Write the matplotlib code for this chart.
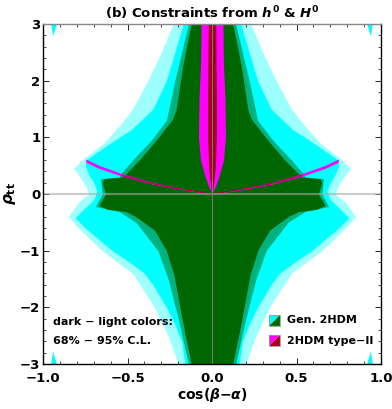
import matplotlib
matplotlib.use("Agg")
import matplotlib.pyplot as plt
import numpy as np
from matplotlib.patches import Polygon

plt.rcParams['font.family'] = ['DejaVu Sans']
plt.rcParams['font.weight'] = 'bold'
plt.rcParams['mathtext.fontset'] = 'custom'
plt.rcParams['mathtext.rm'] = 'DejaVu Sans:bold'
plt.rcParams['mathtext.it'] = 'DejaVu Sans:italic:bold'
plt.rcParams['mathtext.bf'] = 'DejaVu Sans:bold'

# right-hand half widths of each region (regions are mirrored about x = 0)
# general 2HDM, 95% C.L. (cyan): sparse outer edge and dense inner edge
cyan_out_y = [3.0, 2.5, 2.0, 1.5, 1.2, 0.9, 0.6, 0.45, 0.3, 0.1, 0.0, -0.15, -0.4, -0.6, -1.0, -1.4, -2.0, -2.5, -3.0]
cyan_out_x = [0.23, 0.30, 0.38, 0.47, 0.55, 0.64, 0.77, 0.82, 0.78, 0.74, 0.73, 0.79, 0.85, 0.79, 0.65, 0.47, 0.34, 0.26, 0.20]
cyan_in_y = [3.0, 2.5, 2.0, 1.5, 1.13, 1.0, 0.8, 0.6, 0.5, 0.35, 0.2, 0.05, -0.1, -0.3, -0.42, -0.6, -0.8, -1.0, -1.2, -1.4, -1.6, -2.0, -2.3, -2.6, -3.0]
cyan_in_x = [0.17, 0.22, 0.27, 0.35, 0.48, 0.55, 0.65, 0.745, 0.75, 0.73, 0.70, 0.68, 0.70, 0.77, 0.81, 0.75, 0.67, 0.59, 0.49, 0.40, 0.35, 0.27, 0.22, 0.18, 0.16]

# general 2HDM, 68% C.L. (green)
green_out_y = [3.0, 2.0, 1.3, 0.95, 0.6, 0.36, 0.3, 0.27, 0.0, -0.22, -0.31, -0.5, -1.0, -1.5, -2.2, -3.0]
green_out_x = [0.14, 0.22, 0.27, 0.36, 0.47, 0.54, 0.55, 0.66, 0.65, 0.69, 0.55, 0.45, 0.32, 0.26, 0.20, 0.14]
green_in_y = [3.0, 2.28, 1.48, 1.31, 0.95, 0.6, 0.36, 0.30, 0.27, 0.2, 0.1, 0.0, -0.1, -0.2, -0.27, -0.31, -0.4, -0.64, -1.0, -1.43, -2.19, -3.0]
green_in_x = [0.123, 0.172, 0.213, 0.235, 0.33, 0.43, 0.51, 0.53, 0.64, 0.65, 0.64, 0.63, 0.65, 0.67, 0.62, 0.51, 0.45, 0.34, 0.27, 0.225, 0.178, 0.123]

# type-II, 95% (magenta lens) and 68% (dark red core)
mag_y = [3.0, 2.6, 2.28, 1.66, 1.0, 0.6, 0.48, 0.3, 0.13, 0.02]
mag_x = [0.065, 0.066, 0.068, 0.077, 0.080, 0.068, 0.057, 0.040, 0.020, 0.0]
red_y = [3.0, 1.66, 1.0, 0.5, 0.25, 0.05, 0.0]
red_x = [0.022, 0.026, 0.026, 0.020, 0.012, 0.003, 0.0]

# type-II wings near rho_tt ~ 0 (centre line and half thickness)
arc_x = [0.0, 0.077, 0.2, 0.353, 0.53, 0.67, 0.747]
arc_y = [0.0, 0.04, 0.10, 0.19, 0.335, 0.48, 0.59]
arc_t = [0.005, 0.010, 0.013, 0.017, 0.022, 0.026, 0.028]

# small cyan islands in the corners
corner_x = [0.918, 0.952, 0.940]
corner_y = [3.0, 3.0, 2.78]

xticks = [-1.0, -0.5, 0.0, 0.5, 1.0]
xticklabels = ['\u22121.0', '\u22120.5', '0.0', '0.5', '1.0']
yticks = [-3, -2, -1, 0, 1, 2, 3]
yticklabels = ['\u22123', '\u22122', '\u22121', '0', '1', '2', '3']

CYAN = '#00ffff'
GREEN = '#006600'
MAGENTA = '#ff00ff'
DRED = '#a3001b'

fig = plt.figure(figsize=(3.92, 4.09), dpi=100)
ax = fig.add_axes([43 / 392, 45 / 409, 338 / 392, 340 / 409])


def mirror_fill(ys, xs, color, alpha=1.0, z=1):
    ys = np.array(ys)
    xs = np.array(xs)
    ax.fill_betweenx(ys, -xs, xs, color=color, alpha=alpha, lw=0, zorder=z)


mirror_fill(cyan_out_y, cyan_out_x, CYAN, 0.38, 1)
mirror_fill(cyan_in_y, cyan_in_x, CYAN, 1.0, 2)
mirror_fill(green_out_y, green_out_x, GREEN, 0.5, 3)
mirror_fill(green_in_y, green_in_x, GREEN, 1.0, 4)
mirror_fill(mag_y, mag_x, MAGENTA, 1.0, 5)
mirror_fill(red_y, red_x, DRED, 1.0, 6)

ax_ = np.array(arc_x)
ay_ = np.array(arc_y)
at_ = np.array(arc_t)
for s in (1, -1):
    ax.fill_between(s * ax_, ay_ - at_, ay_ + at_, color=MAGENTA, lw=0, zorder=5)
    ax.plot(s * ax_[:5], (ay_ - at_ * 0.4)[:5], color=DRED, lw=0.7, zorder=6)

for sx in (1, -1):
    for sy in (1, -1):
        pts = [(sx * cx, sy * cy) for cx, cy in zip(corner_x, corner_y)]
        ax.add_patch(Polygon(pts, closed=True, color=CYAN, lw=0, zorder=2))

ax.axhline(0, color='#aaaaaa', lw=1.5, alpha=0.6, zorder=7)
ax.axvline(0, color='#777777', lw=0.8, zorder=7)

ax.set_xlim(-1, 1)
ax.set_ylim(-3, 3)
ax.set_xticks(xticks)
ax.set_xticklabels(xticklabels)
ax.set_yticks(yticks)
ax.set_yticklabels(yticklabels)
ax.set_xticks(np.arange(-1, 1.01, 0.1), minor=True)
ax.set_yticks(np.arange(-3, 3.01, 0.2), minor=True)
ax.tick_params(which='both', direction='in', top=True, right=True, labelsize=9.5)
ax.tick_params(axis='x', which='major', pad=5.5)
ax.tick_params(axis='y', which='major', pad=2)
ax.tick_params(which='major', length=4, width=0.6)
ax.tick_params(which='minor', length=2, width=0.5)
for sp in ax.spines.values():
    sp.set_linewidth(1.0)
    sp.set_zorder(10)
ax.spines['top'].set_color('#888888')

ax.set_title(r'(b) Constraints from $h^0$ & $H^0$', fontsize=9.5, fontweight='bold', pad=4)
ax.set_xlabel(r'cos($\beta$$-$$\alpha$)', fontsize=10, fontweight='bold', labelpad=1)
ax.set_ylabel(r'$\rho_\mathrm{tt}$', fontsize=11, labelpad=1)

ax.text(0.03, 0.124, 'dark \u2212 light colors:', transform=ax.transAxes, fontsize=8,
        fontweight='bold', va='center', zorder=11)
ax.text(0.03, 0.068, '68% \u2212 95% C.L.', transform=ax.transAxes, fontsize=8,
        fontweight='bold', va='center', zorder=11)

legend_items = [('Gen. 2HDM', CYAN, GREEN, 0.112), ('2HDM type\u2212II', MAGENTA, DRED, 0.053)]
for label, c_light, c_dark, yb in legend_items:
    x0, x1 = 0.669, 0.701
    y0, y1 = yb, yb + 0.032
    ax.add_patch(Polygon([(x0, y0), (x0, y1), (x1, y1)], closed=True, transform=ax.transAxes,
                         facecolor=c_light, edgecolor='none', zorder=11))
    ax.add_patch(Polygon([(x0, y0), (x1, y1), (x1, y0)], closed=True, transform=ax.transAxes,
                         facecolor=c_dark, edgecolor='none', zorder=11))
    ax.add_patch(Polygon([(x0, y0), (x0, y1), (x1, y1), (x1, y0)], closed=True,
                         transform=ax.transAxes, facecolor='none', edgecolor='#999999',
                         lw=0.6, zorder=12))
    ax.text(0.722, yb + 0.016, label, transform=ax.transAxes, fontsize=8,
            fontweight='bold', va='center', zorder=11)

fig.savefig('out.png', dpi=100)
